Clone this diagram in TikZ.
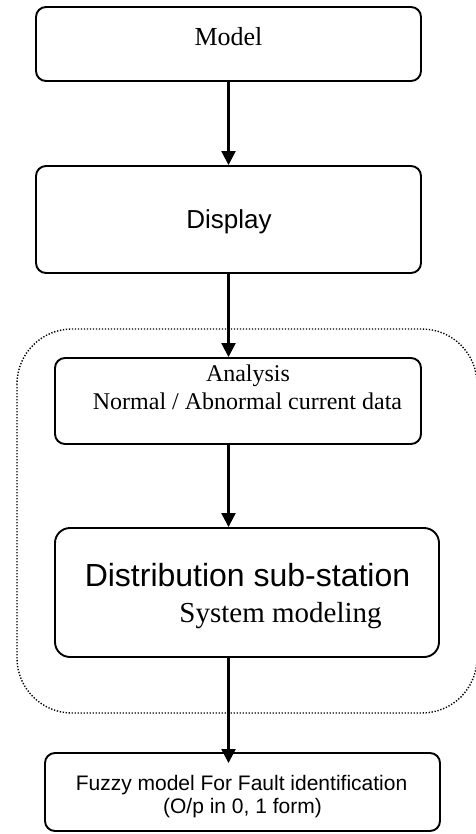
\documentclass[tikz,border=0pt]{standalone}
\usepackage{fontspec}
\setmainfont{Liberation Serif}
\newfontfamily\arialfont{Liberation Sans}
\usepackage{tikz}
\usetikzlibrary{arrows.meta}

\tikzset{
  blk/.style={draw,rounded corners=10pt,line width=1.9pt,inner sep=0pt},
  arr/.style={line width=2.2pt,-{Triangle[length=14pt,width=14pt]}},
  txt/.style={anchor=base,inner sep=0pt}
}

\begin{document}
\begin{tikzpicture}[x=1pt,y=-1pt]
    \useasboundingbox (0,0) rectangle (475,834);
    % boxes
    \node[blk,minimum width=385pt,minimum height=74pt] (model) at (228.5,44) {};
    \node[blk,minimum width=385pt,minimum height=107pt] (display) at (228.5,219.5) {};
    \node[blk,minimum width=366pt,minimum height=86pt] (analysis) at (238,401) {};
    \node[blk,rounded corners=15pt,minimum width=384pt,minimum height=129pt] (dss) at (247,592.5) {};
    \node[blk,minimum width=395pt,minimum height=78pt] (fuzzy) at (242.5,792) {};
    % dotted group
    \draw[line width=1.4pt,dash pattern=on 1.3pt off 1.7pt,rounded corners=55pt] (17,329) rectangle (477,713);
    % texts
    \node[txt,font=\fontsize{26}{30}\selectfont] (tmodel) at (228.5,46) {Model};
    \node[txt,font=\arialfont\fontsize{26}{30}\selectfont] (tdisplay) at (229,229) {Display};
    \node[txt,font=\fontsize{24}{28}\selectfont] (tana) at (248,381) {Analysis};
    \node[txt,font=\fontsize{24}{28}\selectfont] (tnorm) at (247.5,409) {Normal / Abnormal current data};
    \node[txt,font=\arialfont\fontsize{32}{36}\selectfont] (tdss) at (247.5,586) {Distribution sub-station};
    \node[txt,font=\fontsize{29}{33}\selectfont] (tsys) at (280.5,622) {System modeling};
    \node[txt,font=\arialfont\fontsize{21}{24}\selectfont] (tfuzzy) at (241.5,790) {Fuzzy model For Fault identification};
    \node[txt,font=\arialfont\fontsize{21}{24}\selectfont] (tout) at (242.5,813) {(O/p in 0, 1 form)};
    % arrows
    \draw[arr] (model) -- (display);
    \draw[arr] (display) -- (display.south |- analysis.north);
    \draw[arr] (display.south |- analysis.south) -- (display.south |- dss.north);
    \draw[arr,shorten >=-11pt] (display.south |- dss.south) -- (display.south |- fuzzy.north);
    %\node at (20,20) {};
\end{tikzpicture}
\end{document}
